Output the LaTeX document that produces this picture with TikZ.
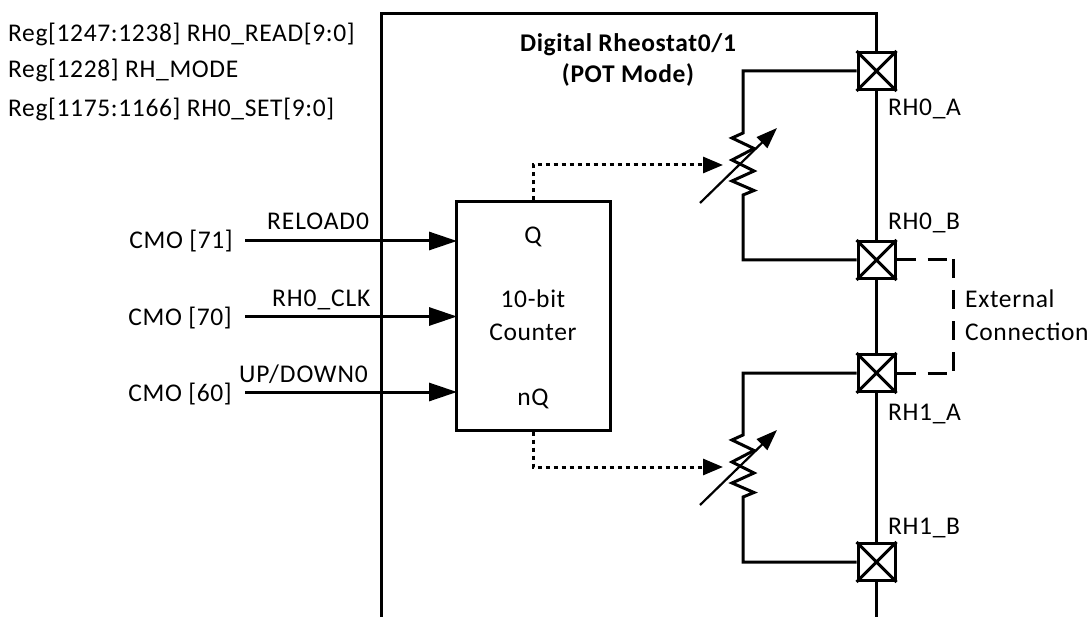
\documentclass[tikz,border=0pt]{standalone}
\usepackage{fontspec}
\setmainfont{Carlito}
\usetikzlibrary{arrows.meta}
\tikzset{
  wire/.style={line width=3pt,line join=miter},
  sig/.style={wire,-{Triangle[length=28pt,width=18pt]},shorten >=-1pt},
  dots/.style={line width=3pt,dash pattern=on 4pt off 4pt,-{Triangle[length=20pt,width=16pt]}},
  pad/.style={draw,line width=3pt,fill=white,minimum size=37pt,inner sep=0pt},
  txt/.style={inner sep=0pt,font=\fontsize{25.5pt}{30pt}\selectfont\addfontfeatures{LetterSpace=2.5}},
  lbl/.style={txt,anchor=base west},
  ctr/.style={txt,anchor=base},
  sigl/.style={lbl,font=\fontsize{25.5pt}{30pt}\selectfont\addfontfeatures{LetterSpace=3.5}},
  ttl/.style={inner sep=0pt,anchor=base,font=\fontsize{25.5pt}{30pt}\selectfont\bfseries\addfontfeatures{LetterSpace=2.5}},
  ext/.style={line width=3pt,dash pattern=on 19pt off 12pt}
}
\begin{document}
\begin{tikzpicture}[x=1pt,y=-1pt]
\useasboundingbox (0,0) rectangle (1091,617);
\coordinate (bl) at (381,617); \coordinate (tl) at (381,14); \coordinate (tr) at (876.5,14); \coordinate (br) at (876.5,617);
\draw[wire] (bl) -- (tl) -- (tr) -- (br);
\node[pad] (p1) at (876.5,71) {};
\node[pad] (p2) at (876.5,260) {};
\node[pad] (p3) at (876.5,373) {};
\node[pad] (p4) at (876.5,562) {};
\foreach \p in {p1,p2,p3,p4}{
  \draw[line width=3pt] (\p.north west) -- (\p.south east) (\p.north east) -- (\p.south west);
}
\node[draw,line width=3pt,minimum width=154pt,minimum height=228pt,inner sep=0pt] (cnt) at (533,316) {};
\node[ctr] (q) at (533,244) {Q};
\node[ctr] (c1) at (533,308) {10-bit};
\node[ctr] (c2) at (533,340) {Counter};
\node[ctr] (nq) at (533,405) {nQ};
\foreach \o/\a/\b/\n in {0/p1/p2/a,302/p3/p4/b}{
\begin{scope}[yshift=-\o pt]
  \coordinate (r\n) at (743,133);
  \coordinate (s\n) at (743,195);
  \coordinate (ws\n) at (700,203);
  \coordinate (we\n) at (777,128);
  \coordinate (dt\n) at (723,165);
\end{scope}
\draw[wire] (\a.west) -| (r\n) -- ++(-11,5) -- ++(22,10.5) -- ++(-22,11.5) -- ++(22,11) -- ++(-22,10) -- ++(22,9.5) -- (s\n) |- (\b.west);
\draw[line width=2.2pt,-{Triangle[length=21pt,width=15pt]}] (ws\n) -- (we\n);
}
\draw[dots] (cnt.north) |- (dta);
\draw[dots] (cnt.south) |- (dtb);
\node[txt,anchor=base east] (i1) at (233,249) {CMO [71]};
\node[txt,anchor=base east] (i2) at (232,325) {CMO [70]};
\node[txt,anchor=base east] (i3) at (232,401) {CMO [60]};
\coordinate (c71) at (456,241); \coordinate (c70) at (456,316.5); \coordinate (c60) at (456,392);
\coordinate (s71) at (245,241); \coordinate (s70) at (245,316.5); \coordinate (s60) at (245,392);
\draw[sig] (s71) -- (c71);
\draw[sig] (s70) -- (c70);
\draw[sig] (s60) -- (c60);
\node[sigl] (l1) at (267,230) {RELOAD0};
\node[sigl] (l2) at (272,306) {RH0\_CLK};
\node[sigl] (l3) at (239,382) {UP/DOWN0};
\coordinate (e1) at (948,260); \coordinate (e2) at (948,373);
\coordinate (v1) at (953,259); \coordinate (v2) at (953,374);
\draw[ext] (p2.east) -- (e1);
\draw[ext] (p3.east) -- (e2);
\draw[ext] (v1) -- (v2);
\node[lbl] (x1) at (965,308) {External};
\node[lbl] (x2) at (965,340) {Connection};
\node[lbl] (a0) at (888,116) {RH0\_A};
\node[lbl] (b0) at (888,230) {RH0\_B};
\node[lbl] (a1) at (888,420) {RH1\_A};
\node[lbl] (b1) at (888,534) {RH1\_B};
\node[lbl] (h1) at (8,42) {Reg[1247:1238] RH0\_READ[9:0]};
\node[lbl] (h2) at (8,78) {Reg[1228] RH\_MODE};
\node[lbl] (h3) at (8,117) {Reg[1175:1166] RH0\_SET[9:0]};
\node[ttl] (t1) at (628,52) {Digital Rheostat0/1};
\node[ttl] (t2) at (628,83) {(POT Mode)};
\end{tikzpicture}
\end{document}
